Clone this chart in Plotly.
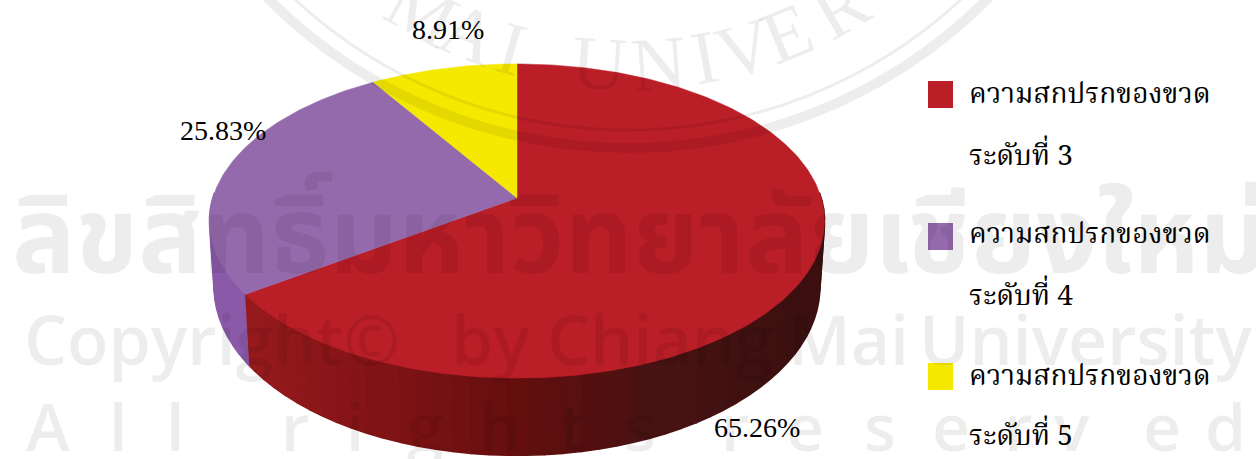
import numpy as np
import plotly.graph_objects as go

# ---- data ----
line_one = "ความสกปรกของขวด"
line_two = ["ระดับที่ 3", "ระดับที่ 4", "ระดับที่ 5"]
shares = [65.26, 25.83, 8.91]
share_labels = ["65.26%", "25.83%", "8.91%"]
top_colors = ["#BA1E27", "#956AAD", "#F5E900"]

W, H = 1256, 459
SERIF = "Liberation Serif"
THAI = "Noto Serif Thai, Noto Sans Thai, Loma, Garuda, Norasi, Liberation Serif, DejaVu Sans, sans-serif"
INK = "rgba(0,0,0,0.07)"

# projection of the pie disc
CX, CY, A, B, K = 517, 198, 304.2, 153.7, 0.1466
LOW_Y, LOW_B, LOW_S = 262, 165, 0.985


def rim(theta, lower=False):
    X, Y = np.sin(theta), np.cos(theta)
    w = 1 + K * Y
    if lower:
        return CX + LOW_S * A * X / w, LOW_Y - LOW_B * Y / w
    return CX + A * X / w, CY - B * Y / w


def dark_red(px):
    return tuple(
        np.interp(px, [250, 400, 517, 650, 800], stops)
        for stops in ([150, 125, 100, 72, 60], [26, 18, 14, 18, 16], [28, 20, 14, 18, 16])
    )


fig = go.Figure()
edges = np.radians(np.concatenate([[0], np.cumsum(shares)]) * 3.6)

# side wall
wall_from = np.radians(88)
wall_to = np.radians(272)
steps = np.linspace(wall_from, wall_to, 62)
for a0, a1 in zip(steps[:-1], steps[1:]):
    for e0, e1, kind in ((edges[0], edges[1], "red"), (edges[1], edges[2], "purple")):
        s, e = max(a0, e0), min(a1, e1)
        if e <= s:
            continue
        t = np.linspace(s, e, 4)
        xt, yt = rim(t)
        xb, yb = rim(t[::-1], True)
        if kind == "red":
            r, g, b = dark_red(float(np.mean(xt)))
            col = f"rgb({r:.0f},{g:.0f},{b:.0f})"
        else:
            col = "#8A5AA8"
        fig.add_trace(go.Scatter(
            x=np.r_[xt, xb], y=np.r_[yt, yb], mode="lines", fill="toself",
            fillcolor=col, line=dict(color=col, width=1.6),
            hoverinfo="skip", showlegend=False))

# top faces
for i, share in enumerate(shares):
    t = np.linspace(edges[i], edges[i + 1], max(int(share * 4), 12))
    xr, yr = rim(t)
    fig.add_trace(go.Scatter(
        x=np.r_[CX, xr, CX], y=np.r_[CY, yr, CY], mode="lines", fill="toself",
        fillcolor=top_colors[i], line=dict(color=top_colors[i], width=0.5),
        name=line_one + " " + line_two[i], text=share_labels[i], hoverinfo="text+name",
        showlegend=False))

ann = []


def note(x, y, text, size, color="black", font=SERIF, angle=0, anchor="center", weight="normal"):
    ann.append(dict(x=x, y=y, xref="x", yref="y", text=text, showarrow=False,
                    font=dict(size=size, color=color, family=font, weight=weight), textangle=angle,
                    xanchor=anchor, yanchor="middle"))


# watermark text
note(10, 241, "ลิขสิทธิ์มหาวิทยาลัยเชียงใหม่", 106, INK, "Noto Sans Thai, " + THAI, anchor="left", weight="bold")
for word, x in zip(["Copyright©", "by", "Chiang", "Mai", "University"], [212, 490, 660, 848, 1085]):
    note(x, 338, word, 68, INK, "Open Sans", weight=600)
for ch, x in zip("Allrightsreserved",
                 [48, 118, 175, 295, 355, 425, 500, 572, 640, 735, 805, 880, 951, 1018, 1072, 1162, 1225]):
    note(x, 425, ch, 66, INK, "Open Sans", weight=600)

# seal lettering
SEAL_X, SEAL_Y = 628, -360
for ch, deg in zip("MAIUNIVERS", [-29, -22, -16, -3.8, 4.1, 10.4, 16, 22, 30, 37]):
    phi = np.radians(deg)
    note(SEAL_X + 424 * np.sin(phi), SEAL_Y + 424 * np.cos(phi), ch, 76, INK, SERIF, angle=-deg)

# seal rings
shapes = []
for R, width in ((508, 10), (490, 3)):
    shapes.append(dict(type="circle", xref="x", yref="y", x0=SEAL_X - R, x1=SEAL_X + R,
                       y0=SEAL_Y - R, y1=SEAL_Y + R, line=dict(color=INK, width=width),
                       layer="above"))

# share labels
for text, x, y in zip(share_labels, [757, 223, 448], [427, 130, 29]):
    note(x, y, text, 28, "black")

# legend
for i, (ty1, ty2, sy) in enumerate(((95, 157, 94), (235, 297, 236), (377, 437, 376))):
    shapes.append(dict(type="rect", xref="x", yref="y", x0=928, x1=953, y0=sy - 13, y1=sy + 14,
                       fillcolor=top_colors[i], line=dict(width=0), layer="above"))
    note(967, ty1, line_one, 28, "black", THAI, anchor="left")
    note(967, ty2, line_two[i], 28, "black", THAI, anchor="left")

fig.update_layout(
    width=W, height=H, margin=dict(l=0, r=0, t=0, b=0),
    paper_bgcolor="white", plot_bgcolor="white", showlegend=False,
    xaxis=dict(range=[0, W], visible=False, fixedrange=True),
    yaxis=dict(range=[H, 0], visible=False, fixedrange=True),
    annotations=ann, shapes=shapes,
)
fig.write_html("out.html", config={"displayModeBar": False},
               post_script="document.body.style.margin='0';document.body.style.overflow='hidden';")
